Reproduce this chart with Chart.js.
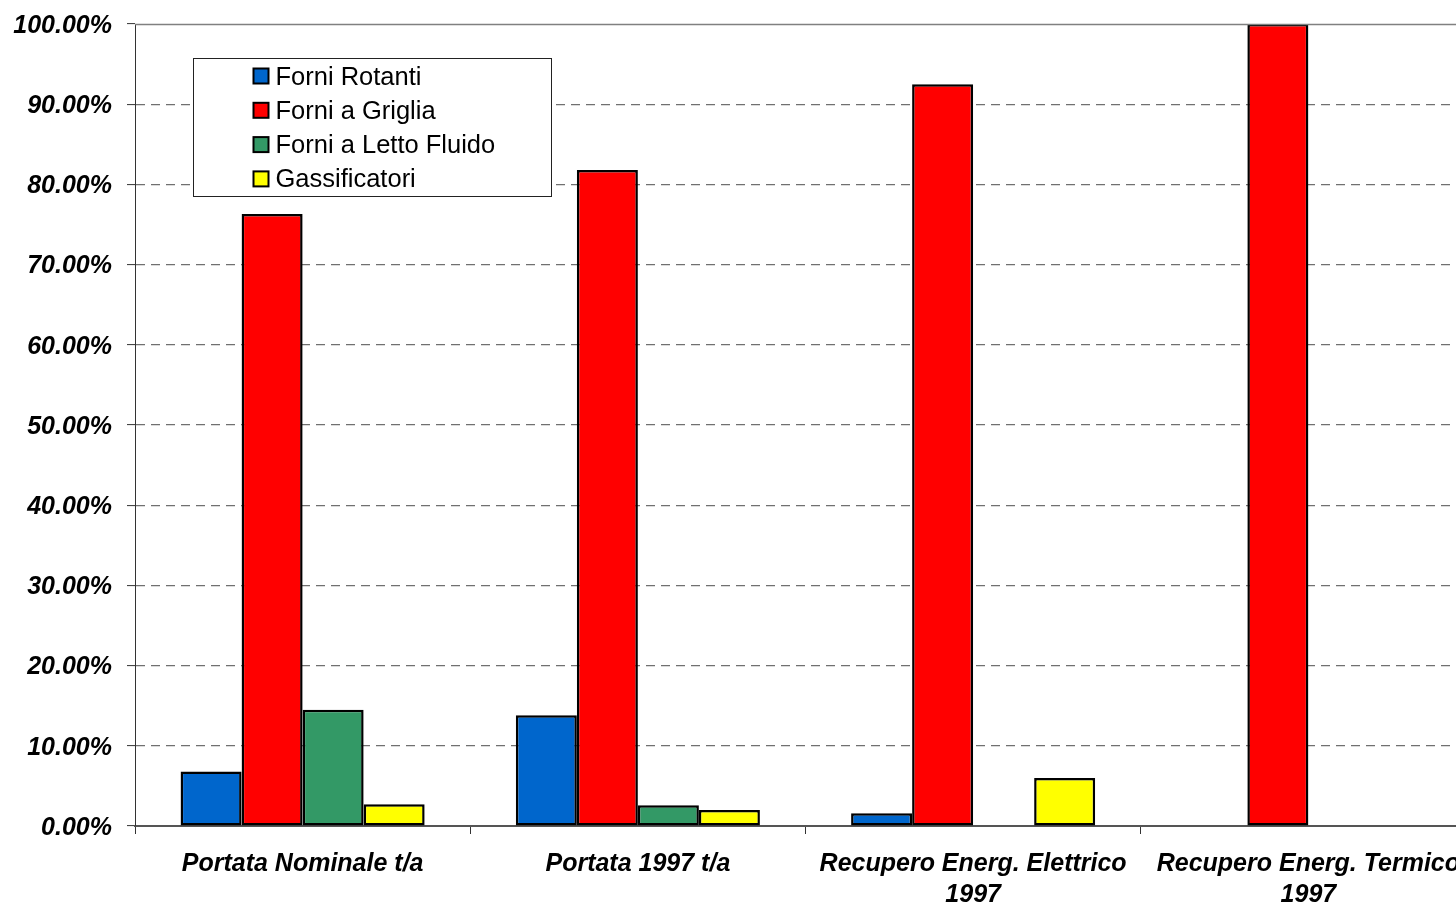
<!DOCTYPE html>
<html>
<head>
<meta charset="utf-8">
<title>Tipologie di forni</title>
<script src="https://cdn.jsdelivr.net/npm/chart.js@4.4.1/dist/chart.umd.min.js"></script>
<style>
  html, body { margin: 0; padding: 0; background: #fff; overflow: hidden; }
  #wrap { position: absolute; left: 0; top: 0; width: 1476px; height: 904px; }
</style>
</head>
<body>
<div id="wrap"><canvas id="c" width="1476" height="904"></canvas></div>
<script>
// Categories (x axis) — multi-line labels
const categories = [
  'Portata Nominale t/a',
  'Portata 1997 t/a',
  ['Recupero Energ. Elettrico', '1997'],
  ['Recupero Energ. Termico', '1997']
];

// Share of each furnace type, in percent
const forniRotanti     = [6.8, 13.8, 1.6, 0];
const forniGriglia     = [76.3, 81.8, 92.5, 100];
const forniLettoFluido = [14.5, 2.6, 0, 0];
const gassificatori    = [2.7, 2.0, 6.0, 0];

const seriesNames  = ['Forni Rotanti', 'Forni a Griglia', 'Forni a Letto Fluido', 'Gassificatori'];
const seriesColors = ['#0066CC', '#FF0000', '#339966', '#FFFF00'];
const seriesValues = [forniRotanti, forniGriglia, forniLettoFluido, gassificatori];

// y tick values
const yTicks = [0, 10, 20, 30, 40, 50, 60, 70, 80, 90, 100];

const FONT = '"Liberation Sans", Arial, sans-serif';

// Solid frame line along the top of the plot (at the max tick)
const topLine = {
  id: 'topLine',
  afterDatasetsDraw(chart) {
    const { ctx, chartArea, scales } = chart;
    const y = Math.round(scales.y.getPixelForValue(yTicks[yTicks.length - 1])) + 0.5;
    ctx.save();
    ctx.strokeStyle = '#808080';
    ctx.lineWidth = 1.5;
    ctx.beginPath();
    ctx.moveTo(chartArea.left, y);
    ctx.lineTo(chartArea.right, y);
    ctx.stroke();
    ctx.restore();
  }
};

// Boxed legend placed inside the plot area
const boxLegend = {
  id: 'boxLegend',
  afterDraw(chart) {
    const { ctx, chartArea } = chart;
    const x0 = chartArea.left + 58.5, y0 = chartArea.top + 34.5;
    const w = 358, h = 138;
    ctx.save();
    ctx.fillStyle = '#fff';
    ctx.fillRect(x0, y0, w, h);
    ctx.strokeStyle = '#222';
    ctx.lineWidth = 1;
    ctx.strokeRect(x0, y0, w, h);
    ctx.font = '25.5px ' + FONT;
    ctx.textBaseline = 'middle';
    chart.data.datasets.forEach((ds, i) => {
      const cy = y0 + 18 + i * 34.3;
      ctx.fillStyle = ds.backgroundColor;
      ctx.fillRect(x0 + 60, cy - 8, 15, 15);
      ctx.strokeStyle = '#000';
      ctx.lineWidth = 2;
      ctx.strokeRect(x0 + 60, cy - 8, 15, 15);
      ctx.fillStyle = '#000';
      ctx.fillText(ds.label, x0 + 82, cy + 1);
    });
    ctx.restore();
  }
};

new Chart(document.getElementById('c'), {
  type: 'bar',
  data: {
    labels: categories,
    datasets: seriesNames.map((name, i) => ({
      label: name,
      data: seriesValues[i],
      backgroundColor: seriesColors[i],
      borderColor: '#000',
      borderWidth: ctx => (ctx.raw ? 2.5 : 0),
      borderSkipped: false,
      barPercentage: 1,
      categoryPercentage: 0.728
    }))
  },
  options: {
    responsive: false,
    animation: false,
    layout: { padding: { top: 24, right: 0, left: 0, bottom: 0 } },
    plugins: { legend: { display: false }, tooltip: { enabled: false } },
    scales: {
      x: {
        afterFit(scale) { scale.height = 78; },
        grid: {
          drawOnChartArea: false,
          drawTicks: true,
          tickLength: 8,
          tickColor: '#333',
          tickWidth: 1,
          offset: true
        },
        border: { display: true, color: '#555', width: 2 },
        ticks: {
          color: '#000',
          padding: 15,
          maxRotation: 0,
          autoSkip: false,
          font: { family: FONT, size: 25, weight: 'bold', style: 'italic', lineHeight: 1.22 }
        }
      },
      y: {
        min: 0,
        max: 100,
        afterFit(scale) {
          scale.width = 135;
          scale.paddingTop = 0;
          scale.paddingBottom = 0;
        },
        afterBuildTicks(scale) { scale.ticks = yTicks.map(v => ({ value: v })); },
        grid: {
          color: ctx => (ctx.tick && (ctx.tick.value === 0 || ctx.tick.value === 100)) ? 'rgba(0,0,0,0)' : '#707070',
          lineWidth: 1.2,
          drawTicks: true,
          tickLength: 8,
          tickColor: '#333',
          tickWidth: 1,
          tickBorderDash: []
        },
        border: { display: true, color: '#333', width: 1, dash: [9, 6] },
        ticks: {
          color: '#000',
          padding: 15,
          labelOffset: 2,
          font: { family: FONT, size: 25, weight: 'bold', style: 'italic' },
          callback: v => v.toFixed(2) + '%'
        }
      }
    }
  },
  plugins: [topLine, boxLegend]
});
</script>
</body>
</html>
